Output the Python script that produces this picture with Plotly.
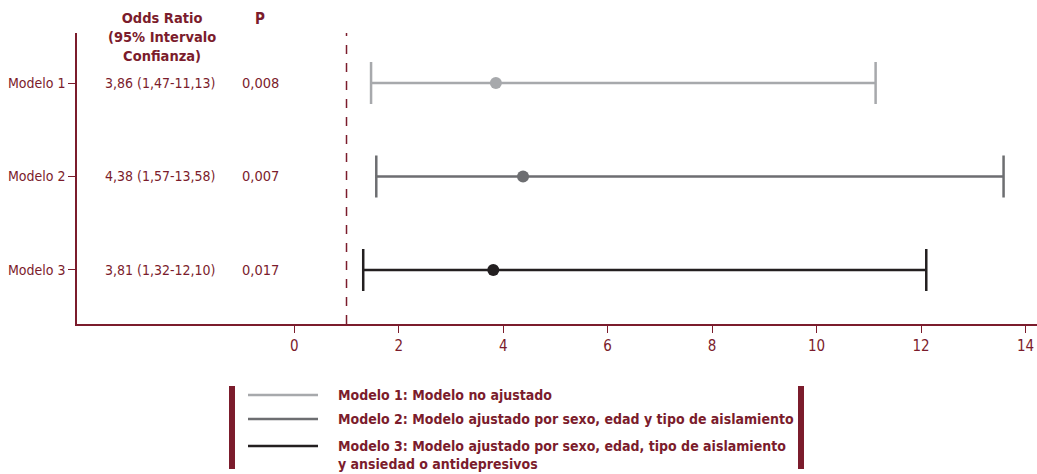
import plotly.graph_objects as go

models = ["Modelo 1", "Modelo 2", "Modelo 3"]
odds = [3.86, 4.38, 3.81]
ci_low = [1.47, 1.57, 1.32]
ci_high = [11.13, 13.58, 12.10]
or_labels = ["3,86 (1,47-11,13)", "4,38 (1,57-13,58)", "3,81 (1,32-12,10)"]
p_labels = ["0,008", "0,007", "0,017"]
legend_labels = [
    "Modelo 1: Modelo no ajustado",
    "Modelo 2: Modelo ajustado por sexo, edad y tipo de aislamiento",
    "Modelo 3: Modelo ajustado por sexo, edad, tipo de aislamiento<br>y ansiedad o antidepresivos",
]
x_ticks = [0, 2, 4, 6, 8, 10, 12, 14]
ref_line = 1

colors = ["#a7a9ac", "#6d6e71", "#231f20"]
RED = "#7b1c2c"
FONT = "Liberation Sans Narrow, DejaVu Sans Condensed, Arial Narrow, sans-serif"

W, H = 1037, 474
L, R, T, B = 77, 0, 33, 150
PW, PH = W - L - R, H - T - B


def px(x):
    return (x - L) / PW


def py(y):
    return (H - B - y) / PH


fig = go.Figure()
for i, m in enumerate(models):
    fig.add_trace(go.Scatter(
        x=[odds[i]], y=[i], mode="markers",
        marker=dict(color=colors[i], size=12),
        error_x=dict(type="data", symmetric=False,
                     array=[ci_high[i] - odds[i]],
                     arrayminus=[odds[i] - ci_low[i]],
                     color=colors[i], thickness=2.5, width=21),
        showlegend=False, hoverinfo="skip",
    ))

# table columns
for i in range(len(models)):
    fig.add_annotation(x=-2.57, y=i, xref="x", yref="y", text=or_labels[i],
                       showarrow=False, font=dict(size=14, color=RED, family=FONT))
    fig.add_annotation(x=-0.65, y=i, xref="x", yref="y", text=p_labels[i],
                       showarrow=False, font=dict(size=14.5, color=RED, family=FONT))

fig.add_annotation(x=px(162), y=py(8), xref="paper", yref="paper",
                   text="<b>Odds Ratio<br>(95% Intervalo<br>Confianza)</b>",
                   showarrow=False, yanchor="top", xanchor="center",
                   font=dict(size=14.5, color=RED, family=FONT))
fig.add_annotation(x=px(260), y=py(8), xref="paper", yref="paper",
                   text="<b>P</b>", showarrow=False, yanchor="top", xanchor="center",
                   font=dict(size=15, color=RED, family=FONT))

# reference dashed line
fig.add_shape(type="line", x0=ref_line, x1=ref_line, y0=0, y1=1,
              xref="x", yref="paper",
              line=dict(color=RED, width=1.5, dash="dash"))

# legend box
for x0 in (229, 798):
    fig.add_shape(type="rect", x0=px(x0), x1=px(x0 + 6), y0=py(386), y1=py(469),
                  xref="paper", yref="paper", fillcolor=RED, line=dict(width=0))
legend_y = [395, 419, 446]
for i, yy in enumerate(legend_y):
    fig.add_shape(type="line", x0=px(248), x1=px(318), y0=py(yy), y1=py(yy),
                  xref="paper", yref="paper",
                  line=dict(color=colors[i], width=2.5))
    fig.add_annotation(x=px(336), y=py(yy - 10), xref="paper", yref="paper",
                       text="<b>" + legend_labels[i] + "</b>", showarrow=False,
                       xanchor="left", yanchor="top", align="left",
                       font=dict(size=14, color=RED, family=FONT))

fig.update_layout(
    width=W, height=H,
    margin=dict(l=L, r=R, t=T, b=B),
    plot_bgcolor="white", paper_bgcolor="white",
    font=dict(family=FONT, color=RED),
    xaxis=dict(range=[-4.16, 14.22], tickvals=x_ticks, ticktext=[str(v) for v in x_ticks],
               showgrid=False, zeroline=False, showline=True, linecolor=RED,
               linewidth=1.5, ticks="outside", ticklen=7, tickcolor=RED,
               tickfont=dict(size=15, color=RED, family=FONT)),
    yaxis=dict(range=[2.578, -0.535], tickvals=[0, 1, 2], ticktext=models,
               showgrid=False, zeroline=False, showline=True, linecolor=RED,
               linewidth=1.5, ticks="outside", ticklen=7, tickcolor=RED,
               tickfont=dict(size=14, color=RED, family=FONT)),
)

fig.write_html("out.html")
